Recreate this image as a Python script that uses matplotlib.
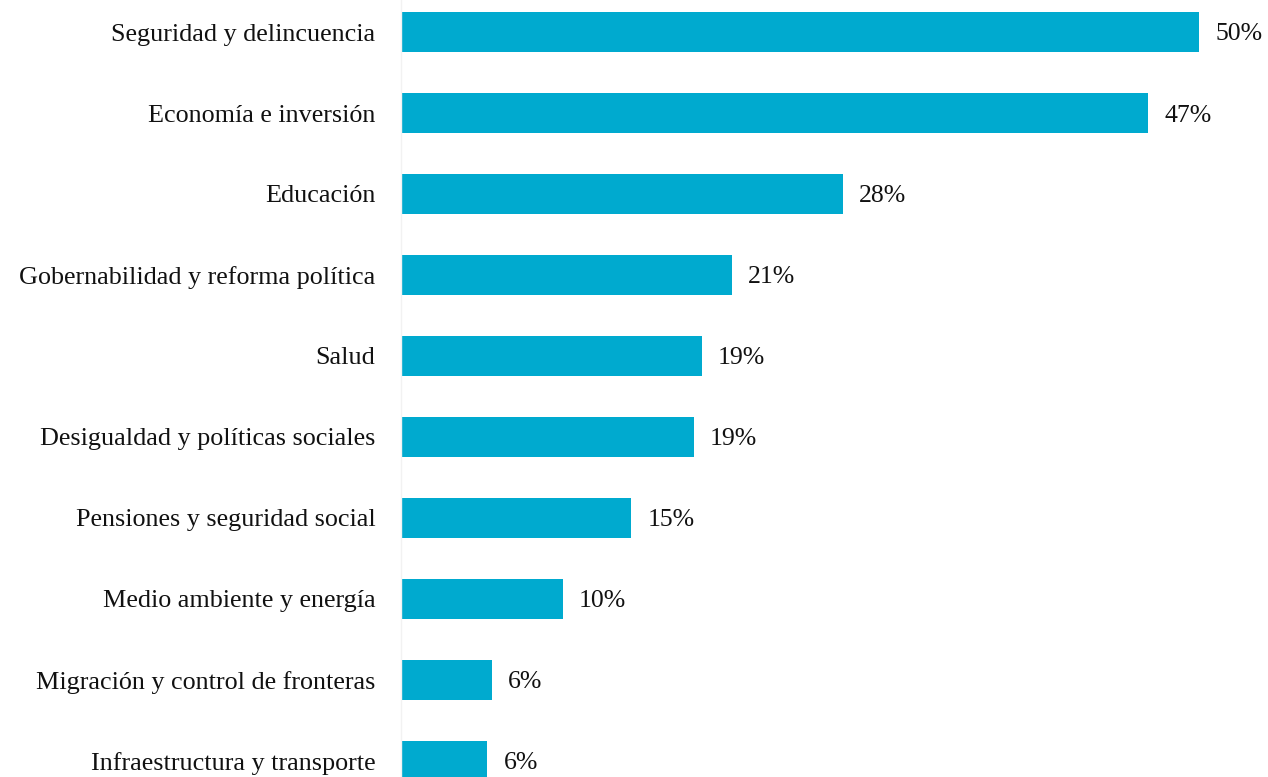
import numpy as np
import matplotlib.pyplot as plt

categories = ["Seguridad y delincuencia", "Economía e inversión", "Educación",
              "Gobernabilidad y reforma política", "Salud",
              "Desigualdad y políticas sociales", "Pensiones y seguridad social",
              "Medio ambiente y energía", "Migración y control de fronteras",
              "Infraestructura y transporte"]
values = [49.9, 46.7, 27.6, 20.7, 18.8, 18.3, 14.4, 10.1, 5.7, 5.4]
value_labels = ["50%", "47%", "28%", "21%", "19%", "19%", "15%", "10%", "6%", "6%"]

plt.rcParams['font.family'] = ['Liberation Serif', 'DejaVu Serif']

fig = plt.figure(figsize=(12.68, 7.77), dpi=100)
ax = fig.add_axes([401 / 1268, 0, 867 / 1268, 1])

y = np.arange(len(categories))
ax.barh(y, values, height=0.49, color='#00AACF')

for yi, v, lab in zip(y, values, value_labels):
    ax.text(v + 1.0, yi, lab, va='center_baseline', ha='left', fontsize=18.5, color='#111111')

ax.set_xlim(0, 867 / 16)
ax.set_ylim((777 - 32) / 81, -32 / 81)
ax.set_yticks(y)
ax.set_yticklabels(categories, fontsize=18.8, color='#111111', va='center_baseline')
ax.tick_params(axis='y', length=0, pad=18.5)
ax.set_xticks([])
for s in ['top', 'right', 'bottom']:
    ax.spines[s].set_visible(False)
ax.spines['left'].set_color('#f2f2f2')
ax.spines['left'].set_linewidth(1)

fig.savefig('out.png', dpi=100)
